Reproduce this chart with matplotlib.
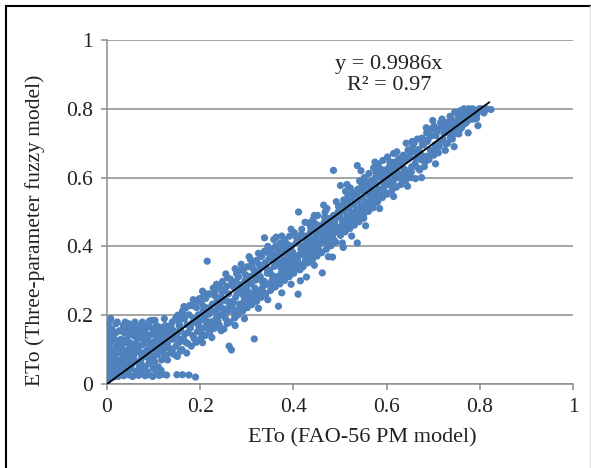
import matplotlib
matplotlib.use("Agg")
import matplotlib.pyplot as plt
from matplotlib.lines import Line2D

# ---------------- data ----------------
slope = 0.9986
r2 = 0.97
x_ticks = [0, 0.2, 0.4, 0.6, 0.8, 1]
x_tick_labels = ["0", "0.2", "0.4", "0.6", "0.8", "1"]
y_ticks = [0, 0.2, 0.4, 0.6, 0.8, 1]
y_tick_labels = ["0", "0.2", "0.4", "0.6", "0.8", "1"]
x_label = "ETo (FAO-56 PM model)"
y_label = "ETo (Three-parameter fuzzy model)"

# points near the origin (FAO-56 PM, fuzzy)
origin_pts = [
    (0.000, 0.000), (0.002, 0.010), (0.004, 0.020), (0.003, 0.030), (0.005, 0.042),
    (0.002, 0.055), (0.006, 0.065), (0.004, 0.078), (0.003, 0.090), (0.005, 0.105),
    (0.002, 0.120), (0.004, 0.138), (0.006, 0.152), (0.003, 0.168), (0.005, 0.182),
    (0.008, 0.190), (0.012, 0.025), (0.018, 0.030), (0.024, 0.022), (0.030, 0.028),
    (0.036, 0.024), (0.042, 0.030), (0.048, 0.026), (0.055, 0.022), (0.062, 0.028),
    (0.068, 0.025), (0.075, 0.030), (0.082, 0.024), (0.090, 0.027), (0.098, 0.022),
    (0.105, 0.030), (0.112, 0.025), (0.120, 0.028), (0.128, 0.026), (0.150, 0.027),
    (0.162, 0.027), (0.176, 0.026), (0.190, 0.020),
    (0.010, 0.050), (0.015, 0.080), (0.020, 0.110), (0.020, 0.150), (0.025, 0.060),
    (0.030, 0.090), (0.030, 0.130), (0.035, 0.170), (0.040, 0.040), (0.040, 0.070),
    (0.045, 0.100), (0.045, 0.140), (0.050, 0.120), (0.050, 0.160), (0.055, 0.060),
    (0.060, 0.090), (0.060, 0.180), (0.065, 0.130), (0.070, 0.050), (0.070, 0.110),
    (0.075, 0.150), (0.080, 0.080), (0.080, 0.170), (0.085, 0.120), (0.090, 0.060),
    (0.090, 0.140), (0.095, 0.100), (0.100, 0.160), (0.100, 0.080), (0.105, 0.130),
    (0.110, 0.050), (0.110, 0.110), (0.115, 0.150), (0.120, 0.090), (0.120, 0.140),
    (0.125, 0.170), (0.130, 0.120), (0.130, 0.070), (0.135, 0.150), (0.140, 0.100),
    (0.140, 0.180), (0.012, 0.035), (0.018, 0.045), (0.022, 0.070), (0.028, 0.040),
    (0.032, 0.055), (0.038, 0.120), (0.042, 0.160), (0.048, 0.085), (0.052, 0.045),
    (0.058, 0.140), (0.062, 0.065), (0.068, 0.160), (0.072, 0.090), (0.078, 0.130),
    (0.082, 0.050), (0.088, 0.100), (0.092, 0.165), (0.098, 0.120), (0.102, 0.065),
    (0.108, 0.150), (0.112, 0.095), (0.118, 0.120), (0.122, 0.075), (0.128, 0.140),
    (0.132, 0.160), (0.138, 0.090), (0.142, 0.130), (0.148, 0.110), (0.152, 0.150),
    (0.155, 0.170), (0.158, 0.130), (0.160, 0.190), (0.008, 0.120), (0.010, 0.160),
    (0.014, 0.020), (0.016, 0.130), (0.022, 0.180), (0.026, 0.100), (0.034, 0.075),
    (0.036, 0.150), (0.044, 0.055), (0.046, 0.120), (0.054, 0.095), (0.056, 0.170),
    (0.064, 0.110), (0.066, 0.040), (0.074, 0.075), (0.076, 0.180), (0.084, 0.145),
    (0.086, 0.035), (0.094, 0.080), (0.096, 0.185), (0.104, 0.100), (0.106, 0.170),
    (0.114, 0.135), (0.116, 0.040), (0.124, 0.105), (0.126, 0.160),
]

origin_fill_pts = [
    (0.006, 0.035), (0.009, 0.075), (0.011, 0.095), (0.013, 0.140), (0.017, 0.060),
    (0.019, 0.175), (0.021, 0.090), (0.023, 0.125), (0.027, 0.155), (0.029, 0.070),
    (0.031, 0.110), (0.033, 0.035), (0.037, 0.095), (0.039, 0.180), (0.041, 0.130),
    (0.043, 0.085), (0.047, 0.175), (0.049, 0.065), (0.051, 0.105), (0.053, 0.145),
    (0.057, 0.080), (0.059, 0.115), (0.061, 0.155), (0.063, 0.035), (0.067, 0.095),
    (0.069, 0.140), (0.071, 0.170), (0.073, 0.060), (0.077, 0.115), (0.079, 0.035),
    (0.081, 0.155), (0.083, 0.095), (0.087, 0.130), (0.089, 0.075), (0.091, 0.183),
    (0.093, 0.120), (0.097, 0.145), (0.099, 0.045), (0.101, 0.115), (0.103, 0.185),
    (0.107, 0.085), (0.109, 0.125), (0.113, 0.165), (0.117, 0.070), (0.119, 0.155),
    (0.121, 0.110), (0.123, 0.190), (0.127, 0.085), (0.129, 0.125), (0.133, 0.105),
    (0.137, 0.170), (0.139, 0.135), (0.143, 0.155), (0.145, 0.085), (0.147, 0.190),
]

# band from 0.15 to 0.36
low_band_pts = [
    (0.151, 0.080), (0.154, 0.120), (0.149, 0.142), (0.156, 0.171), (0.152, 0.200),
    (0.161, 0.100), (0.164, 0.131), (0.158, 0.160), (0.166, 0.189), (0.162, 0.212),
    (0.171, 0.090), (0.168, 0.122), (0.174, 0.150), (0.172, 0.172), (0.176, 0.201),
    (0.169, 0.221), (0.181, 0.110), (0.184, 0.141), (0.179, 0.163), (0.186, 0.190),
    (0.183, 0.228), (0.191, 0.121), (0.194, 0.152), (0.189, 0.180), (0.196, 0.201),
    (0.192, 0.222), (0.198, 0.248), (0.201, 0.131), (0.204, 0.162), (0.199, 0.183),
    (0.206, 0.212), (0.202, 0.238), (0.208, 0.258), (0.211, 0.141), (0.214, 0.172),
    (0.209, 0.192), (0.216, 0.221), (0.212, 0.249), (0.215, 0.357), (0.221, 0.152),
    (0.224, 0.181), (0.219, 0.203), (0.226, 0.232), (0.222, 0.261), (0.228, 0.279),
    (0.231, 0.162), (0.234, 0.190), (0.229, 0.212), (0.236, 0.241), (0.232, 0.268),
    (0.241, 0.171), (0.244, 0.200), (0.239, 0.222), (0.246, 0.252), (0.242, 0.281),
    (0.248, 0.298), (0.251, 0.160), (0.254, 0.191), (0.249, 0.219), (0.256, 0.242),
    (0.252, 0.272), (0.258, 0.309), (0.262, 0.110), (0.264, 0.180), (0.259, 0.211),
    (0.266, 0.239), (0.261, 0.262), (0.268, 0.291), (0.267, 0.099), (0.274, 0.192),
    (0.269, 0.223), (0.276, 0.252), (0.272, 0.281), (0.278, 0.321), (0.281, 0.201),
    (0.284, 0.232), (0.279, 0.262), (0.286, 0.289), (0.282, 0.312), (0.288, 0.348),
    (0.291, 0.212), (0.294, 0.241), (0.289, 0.272), (0.296, 0.301), (0.292, 0.330),
    (0.301, 0.222), (0.304, 0.252), (0.299, 0.281), (0.306, 0.312), (0.302, 0.341),
    (0.308, 0.362), (0.311, 0.231), (0.314, 0.262), (0.309, 0.292), (0.316, 0.321),
    (0.312, 0.350), (0.316, 0.131), (0.321, 0.240), (0.324, 0.271), (0.319, 0.302),
    (0.326, 0.330), (0.322, 0.360), (0.331, 0.252), (0.334, 0.281), (0.329, 0.312),
    (0.336, 0.341), (0.332, 0.371), (0.337, 0.299), (0.341, 0.262), (0.344, 0.322),
    (0.339, 0.352), (0.346, 0.381), (0.351, 0.272), (0.354, 0.301), (0.349, 0.331),
    (0.356, 0.361), (0.352, 0.391), (0.358, 0.420),
]

# band from 0.36 to 0.56
mid_band_pts = [
    (0.361, 0.282), (0.364, 0.312), (0.359, 0.342), (0.366, 0.372), (0.362, 0.401),
    (0.363, 0.427), (0.368, 0.226), (0.371, 0.291), (0.374, 0.322), (0.369, 0.352),
    (0.376, 0.380), (0.372, 0.410), (0.381, 0.301), (0.384, 0.331), (0.379, 0.361),
    (0.386, 0.390), (0.382, 0.420), (0.338, 0.425), (0.391, 0.312), (0.394, 0.342),
    (0.389, 0.372), (0.396, 0.401), (0.392, 0.430), (0.401, 0.322), (0.404, 0.351),
    (0.399, 0.381), (0.406, 0.410), (0.402, 0.440), (0.410, 0.261), (0.411, 0.500),
    (0.414, 0.332), (0.409, 0.362), (0.416, 0.392), (0.412, 0.420), (0.418, 0.450),
    (0.421, 0.341), (0.424, 0.372), (0.419, 0.401), (0.426, 0.430), (0.428, 0.311),
    (0.431, 0.352), (0.434, 0.381), (0.429, 0.412), (0.436, 0.440), (0.432, 0.468),
    (0.441, 0.362), (0.444, 0.392), (0.439, 0.421), (0.446, 0.451), (0.442, 0.478),
    (0.451, 0.372), (0.454, 0.402), (0.449, 0.432), (0.456, 0.460), (0.452, 0.490),
    (0.462, 0.323), (0.461, 0.382), (0.464, 0.412), (0.459, 0.441), (0.466, 0.470),
    (0.468, 0.500), (0.471, 0.392), (0.474, 0.422), (0.469, 0.451), (0.476, 0.481),
    (0.472, 0.510), (0.484, 0.369), (0.481, 0.402), (0.484, 0.432), (0.479, 0.462),
    (0.486, 0.490), (0.486, 0.621), (0.491, 0.412), (0.494, 0.442), (0.489, 0.472),
    (0.496, 0.500), (0.492, 0.530), (0.507, 0.397), (0.501, 0.432), (0.504, 0.461),
    (0.499, 0.490), (0.506, 0.520), (0.501, 0.577), (0.511, 0.442), (0.514, 0.472),
    (0.509, 0.502), (0.516, 0.531), (0.512, 0.560), (0.521, 0.452), (0.524, 0.482),
    (0.519, 0.512), (0.526, 0.541), (0.522, 0.570), (0.537, 0.410), (0.531, 0.462),
    (0.534, 0.492), (0.529, 0.522), (0.536, 0.551), (0.537, 0.635), (0.541, 0.472),
    (0.544, 0.502), (0.539, 0.532), (0.546, 0.561), (0.542, 0.590), (0.551, 0.482),
    (0.554, 0.512), (0.549, 0.541), (0.556, 0.571), (0.552, 0.600),
]

# band from 0.56 to 0.83
high_band_pts = [
    (0.561, 0.502), (0.564, 0.532), (0.559, 0.560), (0.566, 0.590), (0.562, 0.612),
    (0.571, 0.512), (0.574, 0.542), (0.569, 0.571), (0.576, 0.600), (0.572, 0.628),
    (0.581, 0.530), (0.584, 0.552), (0.579, 0.582), (0.586, 0.610), (0.582, 0.640),
    (0.591, 0.542), (0.594, 0.570), (0.589, 0.598), (0.596, 0.622), (0.592, 0.650),
    (0.601, 0.552), (0.604, 0.580), (0.599, 0.610), (0.606, 0.632), (0.602, 0.660),
    (0.611, 0.562), (0.614, 0.590), (0.609, 0.620), (0.616, 0.645), (0.621, 0.572),
    (0.624, 0.600), (0.619, 0.630), (0.626, 0.655), (0.622, 0.675), (0.631, 0.580),
    (0.634, 0.610), (0.629, 0.640), (0.636, 0.665), (0.641, 0.592), (0.644, 0.620),
    (0.639, 0.650), (0.646, 0.680), (0.642, 0.700), (0.652, 0.600), (0.654, 0.632),
    (0.649, 0.662), (0.656, 0.690), (0.662, 0.597), (0.661, 0.640), (0.664, 0.672),
    (0.659, 0.700), (0.666, 0.712), (0.671, 0.622), (0.674, 0.652), (0.669, 0.682),
    (0.676, 0.715), (0.681, 0.632), (0.684, 0.662), (0.679, 0.695), (0.686, 0.730),
    (0.691, 0.652), (0.694, 0.680), (0.689, 0.710), (0.696, 0.742), (0.699, 0.766),
    (0.701, 0.665), (0.704, 0.695), (0.706, 0.722), (0.702, 0.750), (0.711, 0.672),
    (0.714, 0.705), (0.709, 0.735), (0.716, 0.760), (0.726, 0.679), (0.721, 0.712),
    (0.724, 0.742), (0.719, 0.770), (0.731, 0.700), (0.734, 0.730), (0.729, 0.760),
    (0.736, 0.778), (0.741, 0.712), (0.744, 0.742), (0.739, 0.770), (0.746, 0.790),
    (0.755, 0.727), (0.751, 0.752), (0.754, 0.778), (0.755, 0.790), (0.761, 0.745),
    (0.764, 0.770), (0.759, 0.795), (0.766, 0.800), (0.771, 0.760), (0.774, 0.785),
    (0.776, 0.800), (0.779, 0.775), (0.781, 0.790), (0.784, 0.800), (0.786, 0.770),
    (0.796, 0.751), (0.791, 0.795), (0.794, 0.785), (0.799, 0.800), (0.804, 0.795),
    (0.809, 0.788), (0.814, 0.800), (0.824, 0.798),
]

# extra points filling the band between the rows above
band_fill_pts = [
    (0.153, 0.185), (0.157, 0.095), (0.163, 0.205), (0.167, 0.145), (0.173, 0.118),
    (0.177, 0.228), (0.182, 0.176), (0.187, 0.132), (0.193, 0.237), (0.197, 0.168),
    (0.203, 0.147), (0.207, 0.226), (0.213, 0.183), (0.217, 0.262), (0.218, 0.158),
    (0.223, 0.214), (0.227, 0.171), (0.233, 0.255), (0.237, 0.204), (0.238, 0.182),
    (0.243, 0.236), (0.247, 0.268), (0.253, 0.208), (0.257, 0.284), (0.258, 0.176),
    (0.263, 0.227), (0.265, 0.305), (0.271, 0.238), (0.273, 0.207), (0.277, 0.298),
    (0.283, 0.216), (0.285, 0.273), (0.287, 0.331), (0.293, 0.257), (0.295, 0.226),
    (0.297, 0.318), (0.303, 0.268), (0.305, 0.296), (0.307, 0.238), (0.313, 0.336),
    (0.315, 0.247), (0.317, 0.279), (0.323, 0.318), (0.325, 0.256), (0.327, 0.346),
    (0.333, 0.298), (0.335, 0.266), (0.338, 0.386), (0.343, 0.336), (0.345, 0.290),
    (0.347, 0.362), (0.353, 0.318), (0.355, 0.285), (0.357, 0.376), (0.363, 0.358),
    (0.365, 0.298), (0.367, 0.386), (0.373, 0.338), (0.375, 0.305), (0.377, 0.396),
    (0.383, 0.350), (0.385, 0.316), (0.387, 0.406), (0.393, 0.358), (0.395, 0.328),
    (0.397, 0.386), (0.403, 0.366), (0.405, 0.336), (0.407, 0.425), (0.413, 0.376),
    (0.415, 0.346), (0.417, 0.435), (0.423, 0.386), (0.425, 0.356), (0.427, 0.415),
    (0.433, 0.396), (0.435, 0.366), (0.437, 0.455), (0.443, 0.406), (0.445, 0.376),
    (0.447, 0.466), (0.453, 0.416), (0.455, 0.446), (0.457, 0.386), (0.463, 0.426),
    (0.465, 0.456), (0.467, 0.485), (0.473, 0.438), (0.475, 0.406), (0.477, 0.466),
    (0.483, 0.446), (0.485, 0.476), (0.487, 0.418), (0.493, 0.456), (0.495, 0.486),
    (0.497, 0.516), (0.503, 0.446), (0.505, 0.476), (0.508, 0.535), (0.513, 0.456),
    (0.515, 0.488), (0.517, 0.546), (0.523, 0.466), (0.525, 0.498), (0.527, 0.556),
    (0.533, 0.478), (0.535, 0.508), (0.538, 0.566), (0.543, 0.488), (0.545, 0.518),
    (0.547, 0.578), (0.553, 0.498), (0.555, 0.528), (0.557, 0.586), (0.563, 0.548),
    (0.565, 0.575), (0.567, 0.518), (0.573, 0.556), (0.577, 0.615), (0.578, 0.528),
    (0.583, 0.566), (0.587, 0.625), (0.593, 0.585), (0.597, 0.556), (0.603, 0.595),
    (0.607, 0.646), (0.613, 0.605), (0.617, 0.576), (0.623, 0.615), (0.627, 0.640),
    (0.633, 0.595), (0.637, 0.625), (0.643, 0.606), (0.647, 0.655), (0.653, 0.616),
    (0.657, 0.675), (0.663, 0.655), (0.667, 0.628), (0.673, 0.668), (0.677, 0.698),
    (0.683, 0.646), (0.687, 0.705), (0.693, 0.665), (0.697, 0.722), (0.703, 0.682),
    (0.707, 0.738), (0.713, 0.690), (0.717, 0.748), (0.723, 0.728), (0.727, 0.698),
    (0.733, 0.745), (0.737, 0.716), (0.743, 0.758), (0.747, 0.728), (0.753, 0.765),
    (0.757, 0.740), (0.763, 0.785), (0.767, 0.756), (0.773, 0.796), (0.777, 0.768),
    (0.783, 0.782), (0.788, 0.797), (0.793, 0.772), (0.803, 0.800), (0.811, 0.796),
]

# looser points along the upper and lower edges of the band
edge_pts = [
    (0.165, 0.225), (0.185, 0.245), (0.205, 0.270), (0.235, 0.290), (0.255, 0.320),
    (0.275, 0.335), (0.305, 0.370), (0.325, 0.380), (0.345, 0.400), (0.375, 0.430),
    (0.395, 0.450), (0.425, 0.470), (0.445, 0.490), (0.465, 0.520), (0.515, 0.580),
    (0.545, 0.620), (0.575, 0.645), (0.615, 0.670), (0.655, 0.705), (0.685, 0.745),
    (0.205, 0.120), (0.225, 0.135), (0.245, 0.155), (0.275, 0.170), (0.295, 0.190),
    (0.325, 0.220), (0.345, 0.245), (0.375, 0.265), (0.395, 0.290), (0.415, 0.300),
    (0.445, 0.345), (0.475, 0.370), (0.505, 0.410), (0.525, 0.430), (0.555, 0.460),
    (0.585, 0.510), (0.615, 0.545), (0.645, 0.575), (0.675, 0.600), (0.705, 0.640),
    (0.745, 0.690), (0.775, 0.730),
]

fit_x_range = [0.0, 0.82]

# ---------------- plotting ----------------
W, H = 591, 468
fig = plt.figure(figsize=(W / 100, H / 100), dpi=100)
plt.rcParams["font.family"] = ["Liberation Serif", "DejaVu Serif"]

ax = fig.add_axes([107 / W, 1 - 384 / H, (573 - 107) / W, (384 - 40) / H])

pts = (origin_pts + origin_fill_pts + low_band_pts + mid_band_pts + high_band_pts
       + band_fill_pts + edge_pts)
fao = [p[0] for p in pts]
fuzzy = [p[1] for p in pts]

ax.scatter(fao, fuzzy, s=27, color="#4F81BD", edgecolors="none", zorder=3)
ax.plot(fit_x_range, [slope * v for v in fit_x_range], color="black", lw=1.3, zorder=4)

ax.set_xlim(0, 1)
ax.set_ylim(0, 1)
ax.set_xticks(x_ticks)
ax.set_xticklabels(x_tick_labels)
ax.set_yticks(y_ticks)
ax.set_yticklabels(y_tick_labels)

grid_c = "#8c8c8c"
ax.yaxis.grid(True, color=grid_c, lw=1.1, zorder=0)
ax.set_axisbelow(True)
for s in ["top", "right"]:
    ax.spines[s].set_visible(False)
for s in ["left", "bottom"]:
    ax.spines[s].set_color(grid_c)
    ax.spines[s].set_linewidth(1.1)
ax.tick_params(axis="both", direction="out", length=4, width=1.1, color=grid_c,
               labelsize=15.5, labelcolor="#222222", pad=6)

fig.text(362 / W, 1 - 438 / H, x_label, ha="center", va="center", fontsize=16, color="#222222")
fig.text(35 / W, 1 - 230 / H, y_label, ha="center", va="center", rotation=90,
         fontsize=15.5, color="#222222")
ax.text(0.605, 0.928, f"y = {slope}x", transform=ax.transAxes, ha="center", va="center",
        fontsize=16, color="#222222")
ax.text(0.605, 0.868, f"R² = {r2}", transform=ax.transAxes, ha="center", va="center",
        fontsize=16, color="#222222")

# outer frame
fig.add_artist(Line2D([6 / W, 6 / W], [0, 1 - 6 / H], transform=fig.transFigure, color="black", lw=1.5))
fig.add_artist(Line2D([6 / W, 590 / W], [1 - 6 / H, 1 - 6 / H], transform=fig.transFigure, color="black", lw=1.5))
fig.add_artist(Line2D([590 / W, 590 / W], [0, 1 - 6 / H], transform=fig.transFigure, color="#dddddd", lw=1))

fig.savefig("out.png", dpi=100)
